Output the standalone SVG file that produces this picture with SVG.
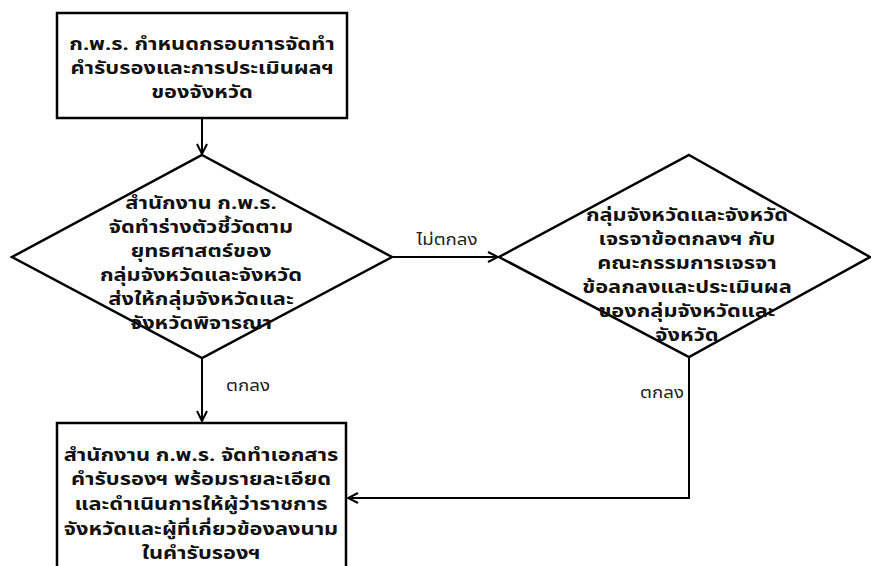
<svg xmlns="http://www.w3.org/2000/svg" width="871" height="566" viewBox="0 0 871 566">
<defs>
<marker id="arr" viewBox="0 0 12 12" refX="11" refY="6" markerWidth="12" markerHeight="12" markerUnits="userSpaceOnUse" orient="auto">
<path d="M1,1 L11,6 L1,11" fill="none" stroke="#000" stroke-width="2"/>
</marker>
<style>
.shape{fill:#fff;stroke:#000;stroke-width:2.5}
.t{font-family:Tahoma,"Noto Sans Thai","Noto Sans","DejaVu Sans",sans-serif;font-size:16.8px;font-weight:bold;fill:#111;text-anchor:middle}
.lbl{font-family:Tahoma,"Noto Sans Thai","Noto Sans","DejaVu Sans",sans-serif;font-size:16px;fill:#222;text-anchor:middle}
.c{fill:none;stroke:#000;stroke-width:2}
</style>
</defs>
<rect width="871" height="566" fill="#fff"/>
<g id="connectors">
<path class="c" d="M202,118 V154" marker-end="url(#arr)"/>
<path class="c" d="M392,257 H498" marker-end="url(#arr)"/>
<path class="c" d="M202,358 V421" marker-end="url(#arr)"/>
<path class="c" d="M689,357 V498 H348" marker-end="url(#arr)"/>
<text class="lbl" transform="translate(447,245) scale(1.17,1)">ไม่ตกลง</text>
<text class="lbl" transform="translate(248,391) scale(1.17,1)">ตกลง</text>
<text class="lbl" transform="translate(662,398) scale(1.17,1)">ตกลง</text>
</g>
<g id="box1">
<rect class="shape" x="57" y="13" width="290" height="105"/>
<g transform="translate(202,0) scale(1.3,1)">
<text class="t" x="0" y="50">ก.พ.ร. กำหนดกรอบการจัดทำ</text>
<text class="t" x="0" y="74">คำรับรองและการประเมินผลฯ</text>
<text class="t" x="0" y="98">ของจังหวัด</text>
</g>
</g>
<g id="diamond1">
<polygon class="shape" points="202,155 392,257 202,358 12,257"/>
<g transform="translate(201,0) scale(1.3,1)">
<text class="t" x="0" y="209">สำนักงาน ก.พ.ร.</text>
<text class="t" x="0" y="233">จัดทำร่างตัวชี้วัดตาม</text>
<text class="t" x="0" y="257">ยุทธศาสตร์ของ</text>
<text class="t" x="0" y="281">กลุ่มจังหวัดและจังหวัด</text>
<text class="t" x="0" y="305">ส่งให้กลุ่มจังหวัดและ</text>
<text class="t" x="0" y="329">จังหวัดพิจารณา</text>
</g>
</g>
<g id="diamond2">
<polygon class="shape" points="689,155 870,257 689,357 499,257"/>
<g transform="translate(687,0) scale(1.3,1)">
<text class="t" x="0" y="221">กลุ่มจังหวัดและจังหวัด</text>
<text class="t" x="0" y="245">เจรจาข้อตกลงฯ กับ</text>
<text class="t" x="0" y="269">คณะกรรมการเจรจา</text>
<text class="t" x="0" y="293">ข้อลกลงและประเมินผล</text>
<text class="t" x="0" y="317">ของกลุ่มจังหวัดและ</text>
<text class="t" x="0" y="341">จังหวัด</text>
</g>
</g>
<g id="box2">
<rect class="shape" x="57" y="423" width="289" height="160"/>
<g transform="translate(201,0) scale(1.3,1)">
<text class="t" x="0" y="461">สำนักงาน ก.พ.ร. จัดทำเอกสาร</text>
<text class="t" x="0" y="485">คำรับรองฯ พร้อมรายละเอียด</text>
<text class="t" x="0" y="510">และดำเนินการให้ผู้ว่าราชการ</text>
<text class="t" x="0" y="535">จังหวัดและผู้ที่เกี่ยวข้องลงนาม</text>
<text class="t" x="0" y="559">ในคำรับรองฯ</text>
</g>
</g>
</svg>
